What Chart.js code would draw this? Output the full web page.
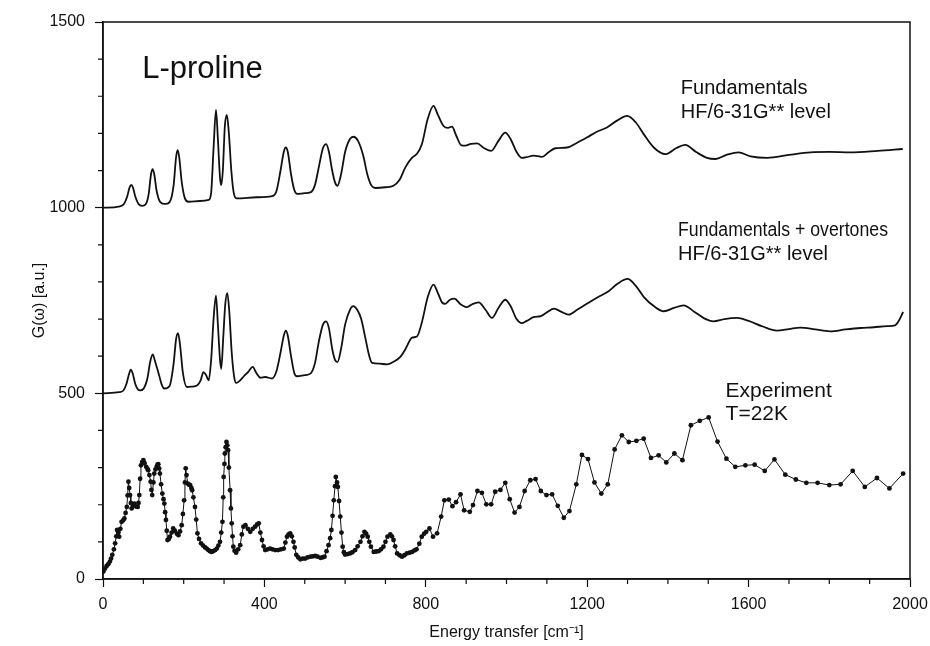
<!DOCTYPE html>
<html>
<head>
<meta charset="utf-8">
<script src="https://cdn.jsdelivr.net/npm/chart.js@4/dist/chart.umd.min.js"></script>
<style>
  html, body { margin: 0; padding: 0; background: #fff; }
  #wrap { width: 930px; height: 646px; position: relative; }
</style>
</head>
<body>
<div id="wrap"><canvas id="c"></canvas></div>
<script>
// Calculated spectrum: fundamentals only (offset +1000)
const fundX = [0, 40, 52, 60, 66, 70, 74, 80, 88, 97, 105, 113, 119, 123, 127, 133, 142, 154, 165, 175, 181, 185, 189, 195, 203, 212, 240, 262, 268, 274, 280, 285, 290, 293, 297, 302, 307, 312, 318, 324, 332, 380, 419, 430, 440, 448, 453, 458, 466, 474, 481, 500, 514, 525, 535, 545, 553, 560, 568, 575, 581, 590, 600, 612, 621, 632, 645, 655, 665, 675, 700, 720, 735, 750, 766, 778, 790, 805, 819, 830, 844, 855, 865, 875, 888, 898, 912, 927, 945, 962, 980, 997, 1010, 1025, 1038, 1050, 1067, 1088, 1105, 1121, 1150, 1175, 1199, 1225, 1249, 1275, 1299, 1320, 1340, 1365, 1394, 1420, 1443, 1470, 1495, 1518, 1545, 1575, 1605, 1646, 1700, 1753, 1800, 1852, 1920, 1982];
const fundY = [1000, 1003, 1010, 1030, 1055, 1061, 1055, 1030, 1010, 1005, 1008, 1035, 1090, 1104, 1090, 1045, 1015, 1010, 1015, 1060, 1135, 1155, 1135, 1070, 1025, 1016, 1018, 1021, 1040, 1160, 1263, 1180, 1080, 1061, 1100, 1220, 1250, 1200, 1100, 1040, 1025, 1028, 1031, 1045, 1100, 1150, 1162, 1150, 1090, 1048, 1037, 1039, 1041, 1060, 1110, 1160, 1171, 1150, 1100, 1068, 1059, 1090, 1150, 1185, 1191, 1180, 1140, 1090, 1060, 1053, 1055, 1059, 1075, 1110, 1135, 1145, 1170, 1240, 1274, 1250, 1220, 1215, 1218, 1195, 1168, 1167, 1172, 1173, 1160, 1153, 1180, 1202, 1185, 1150, 1134, 1136, 1140, 1137, 1150, 1160, 1162, 1175, 1189, 1205, 1216, 1235, 1247, 1230, 1198, 1162, 1144, 1160, 1169, 1150, 1135, 1131, 1142, 1149, 1138, 1134, 1142, 1149, 1150, 1149, 1153, 1158];

// Calculated spectrum: fundamentals + overtones (offset +500)
const overX = [0, 40, 50, 58, 64, 69, 74, 80, 87, 92, 100, 110, 117, 123, 128, 134, 140, 146, 152, 165, 175, 181, 186, 191, 198, 208, 220, 233, 242, 249, 255, 262, 268, 274, 280, 285, 290, 293, 298, 303, 308, 313, 319, 325, 330, 340, 349, 360, 371, 380, 390, 402, 419, 430, 440, 448, 453, 458, 466, 474, 481, 500, 514, 525, 535, 545, 553, 560, 568, 575, 581, 590, 600, 612, 620, 630, 640, 650, 660, 667, 685, 704, 720, 737, 750, 766, 778, 790, 805, 819, 830, 840, 848, 860, 871, 886, 902, 915, 931, 948, 964, 980, 997, 1010, 1025, 1038, 1050, 1067, 1085, 1100, 1118, 1135, 1154, 1175, 1199, 1225, 1253, 1275, 1300, 1320, 1340, 1365, 1390, 1415, 1439, 1465, 1490, 1513, 1540, 1571, 1600, 1635, 1670, 1700, 1728, 1765, 1802, 1840, 1877, 1910, 1943, 1963, 1972, 1983];
const overY = [500, 503, 507, 525, 550, 564, 552, 525, 510, 508, 512, 540, 585, 605, 590, 568, 545, 522, 513, 520, 580, 645, 662, 630, 555, 517, 518, 521, 535, 557, 550, 535, 590, 700, 763, 680, 590, 566, 650, 740, 770, 720, 610, 545, 528, 535, 546, 558, 571, 555, 542, 544, 540, 560, 610, 655, 669, 655, 600, 555, 546, 549, 553, 580, 640, 685, 694, 675, 620, 590, 584, 620, 685, 725, 735, 725, 700, 650, 600, 582, 580, 578, 585, 598, 620, 650, 653, 690, 760, 793, 770, 745, 741, 752, 755, 740, 732, 740, 745, 725, 703, 730, 752, 735, 700, 689, 695, 705, 708, 718, 728, 720, 712, 725, 741, 758, 775, 795, 808, 790, 760, 735, 721, 730, 737, 720, 702, 694, 700, 703, 695, 680, 669, 673, 677, 672, 667, 672, 676, 678, 681, 683, 695, 719];

// Experiment, T = 22 K
const expX = [1, 5, 9, 13, 17, 20, 23, 27, 30, 33, 35, 38, 40, 43, 46, 50, 53, 56, 59, 61, 63, 65, 67, 69, 71, 75, 78, 82, 86, 88, 90, 92, 94, 97, 100, 103, 107, 110, 112, 115, 118, 120, 122, 125, 127, 130, 133, 135, 137, 139, 141, 144, 147, 150, 152, 154, 156, 158, 160, 163, 166, 170, 174, 178, 183, 187, 191, 195, 198, 201, 203, 205, 207, 210, 213, 216, 219, 221, 224, 228, 231, 234, 238, 243, 248, 253, 257, 261, 265, 269, 273, 278, 282, 286, 290, 293, 296, 298, 299, 301, 302, 304, 306, 308, 310, 312, 315, 317, 319, 321, 323, 326, 330, 335, 340, 344, 348, 353, 359, 365, 371, 377, 382, 386, 390, 394, 398, 402, 408, 414, 420, 427, 434, 441, 448, 452, 456, 460, 464, 468, 472, 475, 479, 484, 489, 495, 501, 507, 514, 520, 526, 532, 539, 544, 549, 554, 559, 563, 566, 569, 572, 575, 577, 580, 582, 585, 588, 591, 594, 597, 600, 606, 612, 618, 625, 631, 638, 643, 648, 652, 656, 660, 664, 671, 677, 683, 689, 695, 700, 705, 712, 716, 720, 724, 729, 735, 741, 747, 753, 760, 766, 772, 777, 784, 790, 796, 801, 809, 818, 828, 838, 846, 857, 866, 875, 886, 895, 909, 917, 928, 939, 950, 962, 972, 985, 997, 1008, 1020, 1032, 1045, 1059, 1072, 1085, 1099, 1113, 1127, 1142, 1156, 1173, 1187, 1202, 1218, 1235, 1251, 1268, 1286, 1303, 1322, 1340, 1358, 1377, 1396, 1416, 1436, 1457, 1479, 1501, 1523, 1545, 1567, 1592, 1615, 1640, 1664, 1691, 1717, 1743, 1771, 1800, 1828, 1858, 1888, 1918, 1949, 1983];
const expY = [20, 28, 35, 40, 47, 55, 65, 80, 96, 115, 132, 125, 114, 135, 154, 158, 163, 178, 194, 225, 262, 245, 226, 205, 190, 198, 203, 195, 194, 205, 226, 270, 306, 315, 320, 312, 302, 297, 293, 280, 262, 240, 226, 260, 284, 295, 302, 308, 309, 298, 284, 255, 230, 215, 203, 180, 159, 130, 105, 108, 114, 125, 136, 130, 122, 118, 128, 145, 175, 212, 260, 298, 280, 257, 254, 253, 245, 239, 220, 194, 160, 123, 108, 96, 90, 85, 82, 78, 75, 73, 75, 78, 82, 90, 100, 125, 154, 220, 275, 310, 338, 355, 369, 360, 347, 300, 239, 190, 150, 115, 87, 76, 71, 80, 91, 120, 141, 145, 135, 127, 135, 141, 147, 150, 125, 105, 88, 78, 80, 82, 80, 78, 78, 80, 82, 98, 114, 120, 123, 115, 100, 85, 65, 58, 53, 55, 55, 58, 60, 61, 62, 60, 57, 58, 60, 75, 91, 110, 132, 170, 212, 250, 275, 260, 248, 210, 168, 125, 87, 72, 66, 67, 69, 72, 78, 88, 100, 115, 127, 122, 114, 100, 87, 73, 74, 75, 80, 87, 100, 114, 120, 115, 105, 88, 69, 64, 60, 64, 69, 71, 73, 77, 80, 95, 114, 122, 127, 136, 114, 123, 168, 212, 214, 196, 207, 228, 185, 181, 199, 237, 232, 201, 201, 235, 240, 259, 215, 179, 194, 237, 266, 269, 237, 226, 228, 197, 165, 183, 255, 334, 323, 260, 230, 255, 349, 387, 369, 372, 378, 326, 333, 314, 338, 320, 414, 426, 435, 370, 324, 302, 306, 308, 291, 322, 281, 268, 259, 259, 253, 255, 291, 248, 272, 244, 284];

const xTicksMajor = [0, 400, 800, 1200, 1600, 2000];
const yTicksMajor = [0, 500, 1000, 1500];

const ink = '#111';
const fontFamily = "'Liberation Sans', Arial, Helvetica, sans-serif";

// annotation anchors are in data units; maxW squeezes a line to the width seen in the scan
const labelsInPlot = [
  { lines: ['L-proline'], x: 97, y: 1349, size: 31, gap: 0 },
  { lines: ['Fundamentals', 'HF/6-31G** level'], x: 1432, y: 1306, size: 20, gap: 24 },
  { lines: ['Fundamentals + overtones', 'HF/6-31G** level'], x: 1425, y: 925, size: 20, gap: 24, maxW: [210, null] },
  { lines: ['Experiment', 'T=22K'], x: 1543, y: 489, size: 21, gap: 23 },
];

function toPoints(xs, ys) {
  return xs.map((x, i) => ({ x, y: ys[i] }));
}

const framePlugin = {
  id: 'frame',
  afterDraw(chart) {
    const { ctx, chartArea: a, scales } = chart;
    ctx.save();
    ctx.strokeStyle = ink;
    ctx.lineWidth = 1.5;
    ctx.strokeRect(a.left, a.top, a.right - a.left, a.bottom - a.top);

    // minor ticks every 100 units
    ctx.lineWidth = 1.2;
    ctx.beginPath();
    scales.x.ticks.forEach(t => {
      if (xTicksMajor.includes(t.value)) return;
      const px = scales.x.getPixelForValue(t.value);
      ctx.moveTo(px, a.bottom);
      ctx.lineTo(px, a.bottom + 5);
    });
    scales.y.ticks.forEach(t => {
      if (yTicksMajor.includes(t.value)) return;
      const py = scales.y.getPixelForValue(t.value);
      ctx.moveTo(a.left, py);
      ctx.lineTo(a.left - 5, py);
    });
    ctx.stroke();

    // text labels inside the plot
    ctx.fillStyle = ink;
    ctx.textBaseline = 'alphabetic';
    ctx.textAlign = 'left';
    labelsInPlot.forEach(l => {
      ctx.font = l.size + 'px ' + fontFamily;
      const px = scales.x.getPixelForValue(l.x);
      const py = scales.y.getPixelForValue(l.y);
      l.lines.forEach((s, i) => {
        const w = l.maxW && l.maxW[i];
        if (w) ctx.fillText(s, px, py + i * l.gap, w);
        else ctx.fillText(s, px, py + i * l.gap);
      });
    });
    ctx.restore();
  },
};

const majorTickColor = (list) => (c) => (c.tick && list.includes(c.tick.value) ? ink : 'rgba(0,0,0,0)');

new Chart(document.getElementById('c'), {
  type: 'scatter',
  data: {
    datasets: [
      {
        label: 'Fundamentals',
        data: toPoints(fundX, fundY),
        showLine: true,
        borderColor: ink,
        borderWidth: 1.8,
        pointRadius: 0,
        cubicInterpolationMode: 'monotone',
      },
      {
        label: 'Fundamentals + overtones',
        data: toPoints(overX, overY),
        showLine: true,
        borderColor: ink,
        borderWidth: 1.8,
        pointRadius: 0,
        cubicInterpolationMode: 'monotone',
      },
      {
        label: 'Experiment',
        data: toPoints(expX, expY),
        showLine: true,
        borderColor: ink,
        borderWidth: 1,
        pointRadius: 2.4,
        pointBackgroundColor: ink,
        pointBorderColor: ink,
        pointBorderWidth: 0,
        tension: 0,
      },
    ],
  },
  options: {
    responsive: true,
    maintainAspectRatio: false,
    animation: false,
    events: [],
    layout: { padding: { left: 20, right: 20, top: 22, bottom: 0 } },
    plugins: { legend: { display: false }, tooltip: { enabled: false } },
    scales: {
      x: {
        type: 'linear',
        min: 0,
        max: 2000,
        afterFit(scale) {
          scale.height = 67;
          scale.paddingLeft = 0;
          scale.paddingRight = 0;
        },
        border: { display: true, color: ink, width: 1.5 },
        grid: { drawOnChartArea: false, drawTicks: true, tickLength: 8, tickColor: majorTickColor(xTicksMajor), tickWidth: 1.2 },
        ticks: {
          stepSize: 100,
          autoSkip: false,
          maxRotation: 0,
          padding: 8,
          color: ink,
          font: { family: fontFamily, size: 16 },
          callback: v => (xTicksMajor.includes(v) ? String(v) : ''),
        },
        title: {
          display: true,
          text: 'Energy transfer [cm\u207B\u00B9]',
          color: ink,
          font: { family: fontFamily, size: 16 },
          padding: { top: 0, bottom: 4 },
        },
      },
      y: {
        type: 'linear',
        min: 0,
        max: 1500,
        afterFit(scale) {
          scale.width = 83;
          scale.paddingTop = 0;
          scale.paddingBottom = 0;
        },
        border: { display: true, color: ink, width: 1.5 },
        grid: { drawOnChartArea: false, drawTicks: true, tickLength: 8, tickColor: majorTickColor(yTicksMajor), tickWidth: 1.2 },
        ticks: {
          stepSize: 100,
          autoSkip: false,
          padding: 10,
          color: ink,
          font: { family: fontFamily, size: 16 },
          callback: v => (yTicksMajor.includes(v) ? String(v) : ''),
        },
        title: {
          display: true,
          text: 'G(\u03C9) [a.u.]',
          color: ink,
          font: { family: fontFamily, size: 16 },
          padding: { top: 10, bottom: 0 },
        },
      },
    },
  },
  plugins: [framePlugin],
});
</script>
</body>
</html>
